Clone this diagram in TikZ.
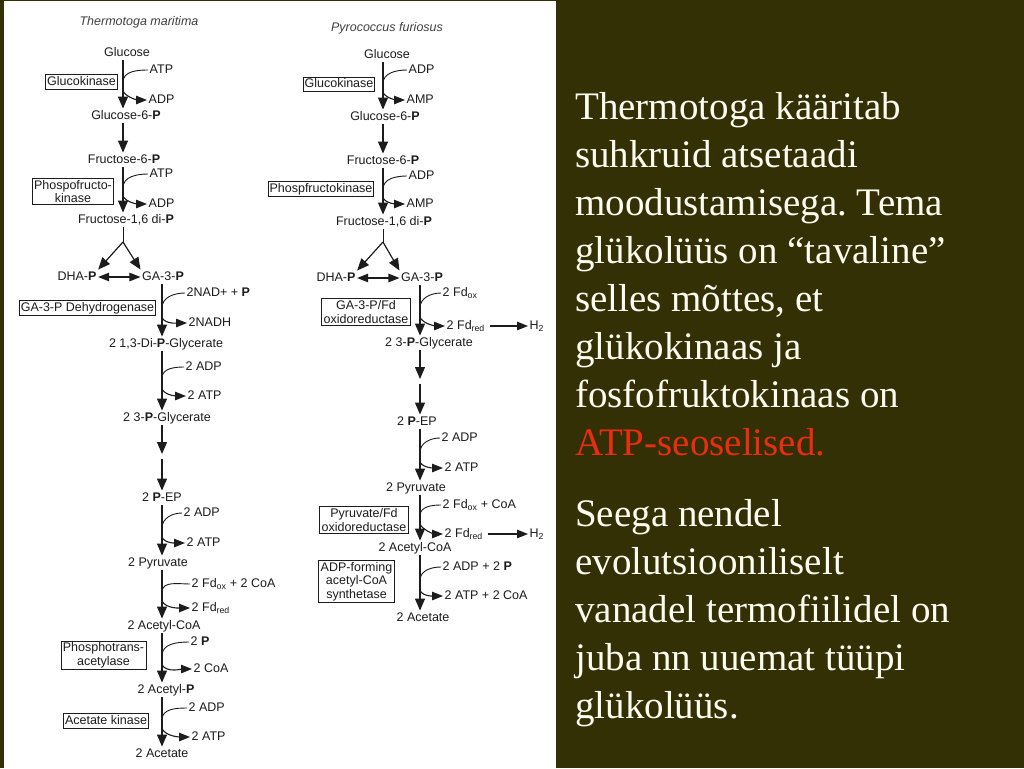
\documentclass[tikz,border=0pt]{standalone}
\usepackage{fontspec}
\setmainfont{Liberation Serif}
\newfontfamily\arialf{Liberation Sans}
\usetikzlibrary{arrows.meta,calc}
\definecolor{bg}{RGB}{51,48,6}
\definecolor{ink}{RGB}{28,28,28}
\definecolor{slred}{RGB}{235,45,15}
\definecolor{cream}{RGB}{252,252,240}
\frenchspacing
\newcommand\myrxn[6]{%
  \coordinate (#1t) at (#2.south -| #6);
  \coordinate (#1b) at (#3.north -| #6);
  \coordinate (#1i) at ($(#1t)!0.45!(#1b)$);
  \coordinate (#1o) at ($(#1t)!0.64!(#1b)$);
  \draw[rxarrow] (#1t) -- (#1b);
  \draw[rxline] (#4.west) to[out=180,in=90] (#1i);
  \draw[rxside] (#1o) to[out=-60,in=180,looseness=0.8] (#5.west);
}
\begin{document}
\frenchspacing
\begin{tikzpicture}[x=1pt,y=-1pt,
  cmp/.style={font=\arialf\fontsize{12.5}{12.5}\selectfont, text=ink, inner sep=1.5pt, text height=9pt, text depth=2.5pt},
  lab/.style={cmp, anchor=west},
  enz/.style={cmp, draw=ink, line width=0.9pt},
  menz/.style={font=\arialf\fontsize{12.5}{13.5}\selectfont, text=ink, draw=ink, line width=0.9pt, inner sep=1.8pt, align=center},
  ttl/.style={font=\arialf\itshape\fontsize{12.5}{12.5}\selectfont, text=black!75},
  rxarrow/.style={draw=ink, line width=1.2pt, -{Triangle[length=12pt,width=10pt]}},
  rxline/.style={draw=ink, line width=0.9pt},
  rxside/.style={draw=ink, line width=1.1pt, -{Triangle[length=11pt,width=8.5pt]}},
  dbl/.style={draw=ink, line width=1.1pt, {Triangle[length=11pt,width=8.5pt]}-{Triangle[length=11pt,width=8.5pt]}},
  ptext/.style={font=\fontsize{39}{48}\selectfont, text=cream, anchor=base west, inner sep=0pt},
]
\useasboundingbox (0,0) rectangle (1024,768);
\fill[bg] (0,0) rectangle (1024,768);
\fill[white] (4,1) rectangle (556,768);

% axes
\coordinate (axL) at (123,0);
\coordinate (axL2) at (162,0);
\coordinate (axR) at (383,0);
\coordinate (axR2) at (420,0);

% ---------------- Left: Thermotoga maritima
\node[ttl] (titleL) at (139,22) {Thermotoga maritima};
\node[cmp] (glcL) at (127,53) {Glucose};
\node[lab] (atpL1) at (148,70) {ATP};
\node[enz] (gkL) at (81.5,82) {Glucokinase};
\node[lab] (adpL1) at (147,100) {ADP};
\node[cmp] (g6pL) at (126,116) {Glucose-6-\textbf{P}};
\node[cmp] (f6pL) at (124,160) {Fructose-6-\textbf{P}};
\node[lab] (atpL2) at (148,174) {ATP};
\node[menz] (pfkL) at (73,191.5) {Phospofructo-\\kinase};
\node[lab] (adpL2) at (147,204) {ADP};
\node[cmp] (fbpL) at (126,220) {Fructose-1,6 di-\textbf{P}};
\coordinate (forkL) at (123,242);
\node[cmp] (dhapL) at (77,277) {DHA-\textbf{P}};
\node[cmp] (ga3pL) at (163,277) {GA-3-\textbf{P}};
\node[lab] (nadL) at (185,293) {2NAD+ + \textbf{P}};
\node[enz] (gapdhL) at (87.5,308) {GA-3-P Dehydrogenase};
\node[lab] (nadhL) at (187,323) {2NADH};
\node[cmp] (bpgL) at (166,344) {2 1,3-Di-\textbf{P}-Glycerate};
\node[lab] (adpL3) at (184,367) {2 ADP};
\node[lab] (atpL3) at (186,396) {2 ATP};
\node[cmp] (pgaL) at (167,418) {2 3-\textbf{P}-Glycerate};
\coordinate (m1L) at (162,454);
\coordinate (m2L) at (162,459);
\node[cmp] (pepL) at (162,498) {2 \textbf{P}-EP};
\node[lab] (adpL4) at (182,513) {2 ADP};
\node[lab] (atpL4) at (185,543) {2 ATP};
\node[cmp] (pyrL) at (158,563) {2 Pyruvate};
\node[lab] (fdoxL) at (190,584) {2 Fd\textsubscript{ox} + 2 CoA};
\node[lab] (fdredL) at (190,608) {2 Fd\textsubscript{red}};
\node[cmp] (acoaL) at (164,626) {2 Acetyl-CoA};
\node[menz] (ptaL) at (103.5,655.5) {Phosphotrans-\\acetylase};
\node[lab] (piL) at (189,642) {2 \textbf{P}};
\node[lab] (coaL) at (192,669) {2 CoA};
\node[cmp] (acpL) at (166,690) {2 Acetyl-\textbf{P}};
\node[lab] (adpL5) at (187,708) {2 ADP};
\node[enz] (akL) at (106,721) {Acetate kinase};
\node[lab] (atpL5) at (190,737) {2 ATP};
\node[cmp] (acL) at (162,754) {2 Acetate};

\myrxn{ra}{glcL}{g6pL}{atpL1}{adpL1}{axL}
\draw[rxarrow] (g6pL.south -| axL) -- (f6pL.north -| axL);
\myrxn{rb}{f6pL}{fbpL}{atpL2}{adpL2}{axL}
\draw[rxline] (fbpL.south -| axL) -- (forkL);
\draw[rxarrow] (forkL) -- (dhapL.north east);
\draw[rxarrow] (forkL) -- (ga3pL.north west);
\draw[dbl] (dhapL.east) -- (ga3pL.west);
\myrxn{rc}{ga3pL}{bpgL}{nadL}{nadhL}{axL2}
\myrxn{rd}{bpgL}{pgaL}{adpL3}{atpL3}{axL2}
\draw[rxarrow] (pgaL.south -| axL2) -- (m1L);
\draw[rxarrow] (m2L) -- (pepL.north -| axL2);
\myrxn{re}{pepL}{pyrL}{adpL4}{atpL4}{axL2}
\myrxn{rf}{pyrL}{acoaL}{fdoxL}{fdredL}{axL2}
\myrxn{rg}{acoaL}{acpL}{piL}{coaL}{axL2}
\myrxn{rh}{acpL}{acL}{adpL5}{atpL5}{axL2}

% ---------------- Right: Pyrococcus furiosus
\node[ttl] (titleR) at (387,28) {Pyrococcus furiosus};
\node[cmp] (glcR) at (387,55) {Glucose};
\node[lab] (adpR1) at (407,70) {ADP};
\node[enz] (gkR) at (339,84.5) {Glucokinase};
\node[lab] (ampR1) at (405,100) {AMP};
\node[cmp] (g6pR) at (385,117) {Glucose-6-\textbf{P}};
\node[cmp] (f6pR) at (383,161) {Fructose-6-\textbf{P}};
\node[lab] (adpR2) at (407,176) {ADP};
\node[enz] (pfkR) at (321,189) {Phospfructokinase};
\node[lab] (ampR2) at (405,204) {AMP};
\node[cmp] (fbpR) at (384,222) {Fructose-1,6 di-\textbf{P}};
\coordinate (forkR) at (383,242);
\node[cmp] (dhapR) at (336,278) {DHA-\textbf{P}};
\node[cmp] (ga3pR) at (422,278) {GA-3-\textbf{P}};
\node[lab] (fdoxR1) at (441,293) {2 Fd\textsubscript{ox}};
\node[menz] (gaporR) at (366,312) {GA-3-P/Fd\\oxidoreductase};
\node[lab] (fdredR1) at (445,326) {2 Fd\textsubscript{red}};
\node[lab] (h2R1) at (528,326) {H\textsubscript{2}};
\node[cmp] (pgaR) at (429,343) {2 3-\textbf{P}-Glycerate};
\coordinate (m1R) at (420,379);
\coordinate (m2R) at (420,384);
\node[cmp] (pepR) at (417,422) {2 \textbf{P}-EP};
\node[lab] (adpR3) at (440,438) {2 ADP};
\node[lab] (atpR3) at (443,468) {2 ATP};
\node[cmp] (pyrR) at (416,488) {2 Pyruvate};
\node[lab] (fdoxR2) at (441,505) {2 Fd\textsubscript{ox} + CoA};
\node[menz] (porR) at (364,520) {Pyruvate/Fd\\oxidoreductase};
\node[lab] (fdredR2) at (443,534) {2 Fd\textsubscript{red}};
\node[lab] (h2R2) at (528,534) {H\textsubscript{2}};
\node[cmp] (acoaR) at (415,548) {2 Acetyl-CoA};
\node[menz] (acsR) at (356.5,581.5) {ADP-forming\\acetyl-CoA\\synthetase};
\node[lab] (pR) at (441,567) {2 ADP + 2 \textbf{P}};
\node[lab] (atpR4) at (443,596) {2 ATP + 2 CoA};
\node[cmp] (acR) at (423,618) {2 Acetate};

\myrxn{sa}{glcR}{g6pR}{adpR1}{ampR1}{axR}
\draw[rxarrow] (g6pR.south -| axR) -- (f6pR.north -| axR);
\myrxn{sb}{f6pR}{fbpR}{adpR2}{ampR2}{axR}
\draw[rxline] (fbpR.south -| axR) -- (forkR);
\draw[rxarrow] (forkR) -- (dhapR.north east);
\draw[rxarrow] (forkR) -- (ga3pR.north west);
\draw[dbl] (dhapR.east) -- (ga3pR.west);
\myrxn{sc}{ga3pR}{pgaR}{fdoxR1}{fdredR1}{axR2}
\draw[rxside, shorten <=3pt] (fdredR1.east) -- (h2R1.west);
\draw[rxarrow] (pgaR.south -| axR2) -- (m1R);
\draw[rxarrow] (m2R) -- (pepR.north -| axR2);
\myrxn{sd}{pepR}{pyrR}{adpR3}{atpR3}{axR2}
\myrxn{se}{pyrR}{acoaR}{fdoxR2}{fdredR2}{axR2}
\draw[rxside, shorten <=3pt] (fdredR2.east) -- (h2R2.west);
\myrxn{sf}{acoaR}{acR}{pR}{atpR4}{axR2}

% ---------------- Text panel
\node[ptext] (t1) at (575,119) {Thermotoga kääritab};
\node[ptext] (t2) at (575,167) {suhkruid atsetaadi};
\node[ptext] (t3) at (575,215) {moodustamisega. Tema};
\node[ptext] (t4) at (575,263) {glükolüüs on “tavaline”};
\node[ptext] (t5) at (575,311) {selles mõttes, et};
\node[ptext] (t6) at (575,359) {glükokinaas ja};
\node[ptext] (t7) at (575,407) {fosfofruktokinaas on};
\node[ptext, text=slred] (t8) at (575,455) {ATP-seoselised.};
\node[ptext] (t9) at (575,526) {Seega nendel};
\node[ptext] (t10) at (575,574) {evolutsiooniliselt};
\node[ptext] (t11) at (575,622) {vanadel termofiilidel on};
\node[ptext] (t12) at (575,670) {juba nn uuemat tüüpi};
\node[ptext] (t13) at (575,718) {glükolüüs.};
\end{tikzpicture}
\end{document}
